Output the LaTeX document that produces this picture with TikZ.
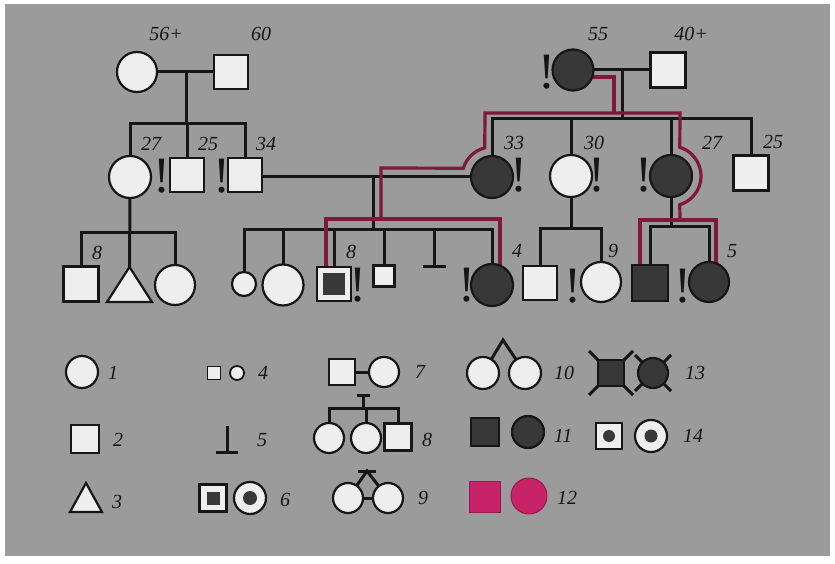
\documentclass[tikz,border=0pt]{standalone}
\usepackage{tikz}
\usepackage{fontspec}
\setmainfont{Liberation Serif}
\usetikzlibrary{calc}
\pgfdeclarelayer{bgl}
\pgfdeclarelayer{lines}
\pgfsetlayers{bgl,lines,main}
\definecolor{bggray}{RGB}{155,155,155}
\definecolor{ink}{RGB}{22,22,22}
\definecolor{darkf}{RGB}{56,56,56}
\definecolor{lightf}{RGB}{238,238,238}
\definecolor{redline}{RGB}{128,24,58}
\definecolor{magf}{RGB}{200,35,105}
\begin{document}
\begin{tikzpicture}[x=1pt,y=-1pt,line join=miter,
  outl/.style={draw=ink, line width=2.2pt, inner sep=0pt, outer sep=0pt},
  fem/.style={outl, circle, fill=lightf, minimum size=41pt},
  mal/.style={outl, rectangle, fill=lightf, minimum size=34pt},
  femA/.style={fem, fill=darkf},
  malA/.style={mal, fill=darkf},
  dotin/.style={circle, fill=darkf, draw=none, inner sep=0pt, minimum size=#1},
  sqin/.style={rectangle, fill=darkf, draw=none, inner sep=0pt, minimum size=#1},
  magsh/.style={outl, fill=magf, draw=magf!75!black, line width=1pt},
  conn/.style={draw=ink, line width=3pt},
  redl/.style={draw=redline, line width=3.2pt},
  lab/.style={font=\fontsize{20}{22}\selectfont\itshape, text=ink, inner sep=0pt},
  excl/.style={font=\fontsize{51}{51}\selectfont, text=ink, inner sep=0pt, anchor=base},
]
\useasboundingbox (0,0) rectangle (835,564);
\begin{pgfonlayer}{bgl}
\fill[white] (0,0) rectangle (835,564);
\fill[bggray] (5,4) rectangle (830,556);
\end{pgfonlayer}

% ---------- Generation I ----------
\node[fem, minimum size=40pt] (c56) at (137,72) {};
\node[mal] (s60) at (231,72) {};
\node[femA] (c55) at (573,70) {};
\node[mal, minimum size=35pt] (s40) at (668,70) {};

% ---------- Generation II ----------
\node[fem, minimum size=42pt] (c27L) at (130,177) {};
\node[mal] (s25L) at (187,175) {};
\node[mal] (s34) at (245,175) {};
\node[femA, minimum size=42pt] (c33) at (492,177) {};
\node[fem, minimum size=42pt] (c30) at (571,176) {};
\node[femA, minimum size=42pt] (c27R) at (671,176) {};
\node[mal, minimum size=35pt] (s25R) at (751,173) {};

% ---------- Generation III ----------
\node[mal, minimum size=35pt] (s8L) at (81,284) {};
\coordinate (triA) at (129.5,267);
\draw[outl, fill=lightf] (107,302) -- (triA) -- (152,302) -- cycle;
\node[fem, minimum size=40pt] (cL3) at (175,285) {};
\node[fem, minimum size=24pt] (csm) at (244,284) {};
\node[fem, minimum size=41pt] (cbig) at (283,285) {};
\node[mal] (s8) at (334,284) {};
\node[sqin=22pt] (s8in) at (334,284) {};
\node[mal, minimum size=21pt] (ssm) at (384,276) {};
\coordinate (mis) at (434,266);
\node[femA, minimum size=42pt] (c4) at (492,285) {};
\node[mal] (sR) at (540,283) {};
\node[fem, minimum size=40pt] (c9) at (601,282) {};
\node[malA, minimum size=36pt] (dsq) at (650,283) {};
\node[femA, minimum size=40pt] (c5) at (709,282) {};

% ---------- coordinates of lines ----------
\coordinate (m1) at (186,72);   \coordinate (sib1) at (186,124);
\coordinate (m2) at (373,177);  \coordinate (sib2) at (373,229);
\coordinate (m3) at (622,70);   \coordinate (sib3) at (622,119);
\coordinate (sib4) at (571,228);
\coordinate (sib5) at (671,226);
\coordinate (sib6) at (130,232);

\begin{pgfonlayer}{lines}
% left family
\draw[conn] (c56) -- (s60);
\draw[conn] (m1) -- (sib1);
\draw[conn] (c27L.north) -- (c27L.north |- sib1) -- (s34.north |- sib1) -- (s34.north);
\draw[conn] (s25L.north) -- (s25L.north |- sib1);
\draw[conn] (c27L.south) -- (triA);
\draw[conn] (s8L.north) -- (s8L.north |- sib6) -- (cL3.north |- sib6) -- (cL3.north);
% 34 x 33
\draw[conn] (s34.east |- c33.west) -- (c33.west);
\draw[conn] (m2) -- (sib2);
\draw[conn] (csm.north) -- (csm.north |- sib2) -- (c4.north |- sib2) -- (c4.north);
\draw[conn] (cbig.north) -- (cbig.north |- sib2);
\draw[conn] (s8.north) -- (s8.north |- sib2);
\draw[conn] (ssm.north) -- (ssm.north |- sib2);
\draw[conn] (mis) -- (mis |- sib2);
\draw[conn] ($(mis)+(-11.5,0)$) -- ($(mis)+(11.5,0)$);
% right family
\draw[conn] (c55) -- (s40);
\draw[conn] (m3) -- (sib3);
\draw[conn] (c33.north) -- (c33.north |- sib3) -- (s25R.north |- sib3) -- (s25R.north);
\draw[conn] (c30.north) -- (c30.north |- sib3);
\draw[conn] (c27R.north) -- (c27R.north |- sib3);
\draw[conn] (c30.south) -- (sib4);
\draw[conn] (sR.north) -- (sR.north |- sib4) -- (c9.north |- sib4) -- (c9.north);
\draw[conn] (c27R.south) -- (sib5);
\draw[conn] (dsq.north) -- (dsq.north |- sib5) -- (c5.north |- sib5) -- (c5.north);

% red (maroon) trace of the allele
\coordinate (r0) at (591.7,77);
\coordinate (r1) at (614,77);
\coordinate (r2) at (614,113);
\draw[redl] (r0) -- (r1) -- (r2);
\draw[redl] (381,219) -- (381,168) -- ($(c33)+(163:30pt)$)
   arc[start angle=163, end angle=104, radius=30pt] -- (485,113) -- (680,113)
   -- ($(c27R)+(73:30pt)$) arc[start angle=73, end angle=-73, radius=30pt] -- (680,220);
\draw[redl] (326,266) -- (326,219) -- (500,219) -- (500,265);
\draw[redl] (640,265) -- (640,220) -- (716,220) -- (716,263);
\end{pgfonlayer}

% ---------- labels ----------
\node[lab] (t56) at (166,34) {56+};
\node[lab] (t60) at (261,34) {60};
\node[lab] (t55) at (598,34) {55};
\node[lab] (t40) at (691,34) {40+};
\node[lab] (t27L) at (151,144) {27};
\node[lab] (t25L) at (208,144) {25};
\node[lab] (t34) at (266,144) {34};
\node[lab] (t33) at (514,143) {33};
\node[lab] (t30) at (594,143) {30};
\node[lab] (t27R) at (712,143) {27};
\node[lab] (t25R) at (773,142) {25};
\node[lab] (t8L) at (97,253) {8};
\node[lab] (t8) at (351,252) {8};
\node[lab] (t4) at (517,251) {4};
\node[lab] (t9) at (613,251) {9};
\node[lab] (t5) at (732,251) {5};

% ---------- exclamation marks ----------
\node[excl] (e1) at (162,193) {!};
\node[excl] (e2) at (222,193) {!};
\node[excl] (e3) at (547,89) {!};
\node[excl] (e4) at (519,192) {!};
\node[excl] (e5) at (597,192) {!};
\node[excl] (e6) at (644,192) {!};
\node[excl] (e7) at (358,301) {!};
\node[excl] (e8) at (467,301) {!};
\node[excl] (e9) at (573,302) {!};
\node[excl] (e10) at (683,302) {!};

% ---------- legend ----------
% row 1
\node[fem, minimum size=32pt] (L1) at (82,372) {};
\node[lab] (l1) at (113,373) {1};
\node[mal, minimum size=13pt, line width=1.8pt] (L4s) at (214,373) {};
\node[fem, minimum size=14pt, line width=1.8pt] (L4c) at (237,373) {};
\node[lab] (l4) at (263,373) {4};
\node[mal, minimum size=26pt] (L7s) at (342,372) {};
\node[fem, minimum size=30pt] (L7c) at (384,372) {};
\node[lab] (l7) at (420,372) {7};
\node[fem, minimum size=32pt] (L10a) at (483,373) {};
\node[fem, minimum size=32pt] (L10b) at (525,373) {};
\coordinate (L10p) at (503,340);
\node[lab] (l10) at (564,373) {10};
\begin{pgfonlayer}{lines}
\draw[conn] (L7s) -- (L7c);
\draw[conn] (L10a) -- (L10p) -- (L10b);
\draw[conn] (589,351) -- (633,395);
\draw[conn] (633,351) -- (589,395);
\draw[conn] (635,355) -- (671,391);
\draw[conn] (671,355) -- (635,391);
\end{pgfonlayer}
\node[malA, minimum size=26pt] (L13s) at (611,373) {};
\node[femA, minimum size=30pt] (L13c) at (653,373) {};
\node[lab] (l13) at (695,373) {13};
% row 2
\node[mal, minimum size=28pt] (L2) at (85,439) {};
\node[lab] (l2) at (118,440) {2};
\coordinate (L5) at (227,452);
\node[lab] (l5) at (262,440) {5};
\node[fem, minimum size=30pt] (L8a) at (329,438) {};
\node[fem, minimum size=30pt] (L8b) at (366,438) {};
\node[mal, minimum size=27pt] (L8c) at (398,437) {};
\coordinate (L8t) at (363,395);
\coordinate (L8s) at (363,408);
\node[lab] (l8) at (427,440) {8};
\node[malA, minimum size=28pt] (L11s) at (485,432) {};
\node[femA, minimum size=32pt] (L11c) at (528,432) {};
\node[lab] (l11) at (563,436) {11};
\node[mal, minimum size=26pt] (L14s) at (609,436) {};
\node[dotin=12pt] (L14sd) at (609,436) {};
\node[fem, minimum size=32pt] (L14c) at (651,436) {};
\node[dotin=13pt] (L14cd) at (651,436) {};
\node[lab] (l14) at (693,436) {14};
% row 3
\coordinate (L3a) at (86,483);
\draw[outl, fill=lightf] (70,512) -- (L3a) -- (102,512) -- cycle;
\node[lab] (l3) at (117,502) {3};
\node[mal, minimum size=27pt] (L6s) at (213,498) {};
\node[sqin=13pt] (L6sd) at (213,498) {};
\node[fem, minimum size=32pt] (L6c) at (250,498) {};
\node[dotin=14pt] (L6cd) at (250,498) {};
\node[lab] (l6) at (285,500) {6};
\node[fem, minimum size=30pt] (L9a) at (348,498) {};
\node[fem, minimum size=30pt] (L9b) at (388,498) {};
\coordinate (L9p) at (367,471);
\node[lab] (l9) at (423,498) {9};
\node[magsh, rectangle, minimum size=31pt] (L12s) at (485,497) {};
\node[magsh, circle, minimum size=36pt] (L12c) at (529,496) {};
\node[lab] (l12) at (567,498) {12};
\begin{pgfonlayer}{lines}
\draw[conn] (L5) -- ++(0,-26);
\draw[conn] ($(L5)+(-11,0)$) -- ($(L5)+(11,0)$);
\draw[conn] (L8t) -- (L8s);
\draw[conn] ($(L8t)+(-6.5,0)$) -- ($(L8t)+(6.5,0)$);
\draw[conn] (L8a.north) |- (L8s) -| (L8c.north);
\draw[conn] (L8b.north) -- (L8b.north |- L8s);
\draw[conn] (L9a) -- (L9b);
\draw[conn] (L9a) -- (L9p) -- (L9b);
\draw[conn] ($(L9p)+(-9,0)$) -- ($(L9p)+(9,0)$);
\end{pgfonlayer}
\end{tikzpicture}
\end{document}
